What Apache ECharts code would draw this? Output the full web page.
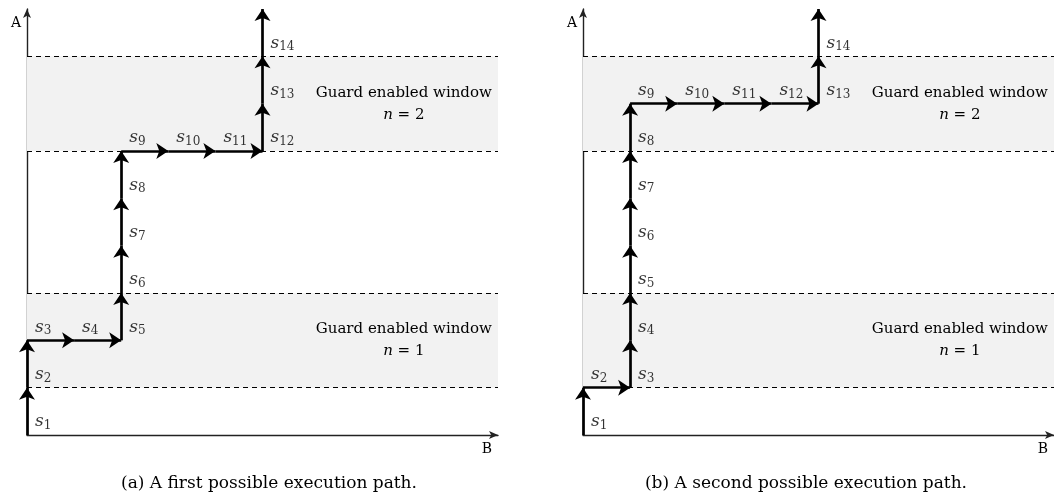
<!DOCTYPE html>
<html>
<head>
<meta charset="utf-8">
<script src="https://cdn.jsdelivr.net/npm/echarts@6/dist/echarts.min.js"></script>
<style>
	html, body { margin: 0; padding: 0; background: #fff; }
	#main { width: 1054px; height: 498px; }
</style>
</head>
<body>
<div id="main"></div>
<script>
	// path of states, one point per state, last point is the exit
	var pathA = [[0, 0], [0, 1], [0, 2], [1, 2], [2, 2], [2, 3], [2, 4], [2, 5], [2, 6], [3, 6], [4, 6], [5, 6], [5, 7], [5, 8], [5, 9]];
	var pathB = [[0, 0], [0, 1], [1, 1], [1, 2], [1, 3], [1, 4], [1, 5], [1, 6], [1, 7], [2, 7], [3, 7], [4, 7], [5, 7], [5, 8], [5, 9]];
	// guard enabled windows (A from, A to) and their n
	var windows = [[1, 3], [6, 8]];
	var windowN = [1, 2];
	var captions = ['(a) A first possible execution path.', '(b) A second possible execution path.'];

	var serif = 'DejaVu Serif';
	var ink = '#000';

	function segments(path) {
		var out = [];
		for (var i = 1; i < path.length; i++) {
			out.push({coords: [path[i - 1], path[i]]});
		}
		return out;
	}

	function stateLabels(path) {
		var out = [];
		for (var i = 0; i < path.length - 1; i++) {
			out.push({value: path[i], name: '{s|s}{d|' + (i + 1) + '}'});
		}
		return out;
	}

	function panelSeries(idx, path) {
		var areas = [], dashes = [];
		windows.forEach(function (w, k) {
			areas.push([
				{xAxis: 0, yAxis: w[0], label: {formatter: '{t|Guard enabled window}\n{i|n}{t| = ' + windowN[k] + '}'}},
				{xAxis: 10, yAxis: w[1]}
			]);
			dashes.push({yAxis: w[0]}, {yAxis: w[1]});
		});
		return [
			{
				type: 'scatter',
				xAxisIndex: idx,
				yAxisIndex: idx,
				data: [],
				z: 1,
				silent: true,
				markArea: {
					silent: true,
					itemStyle: {color: '#f2f2f2'},
					label: {
						position: ['80%', '50%'],
						align: 'center',
						verticalAlign: 'middle',
						lineHeight: 22,
						rich: {
							t: {fontFamily: serif, fontSize: 15, color: ink, lineHeight: 22},
							i: {fontFamily: serif, fontSize: 15, fontStyle: 'italic', color: ink, lineHeight: 22}
						}
					},
					data: areas
				},
				markLine: {
					silent: true,
					symbol: 'none',
					label: {show: false},
					lineStyle: {color: '#000', width: 1.1, type: [5, 4]},
					data: dashes
				}
			},
			{
				type: 'lines',
				coordinateSystem: 'cartesian2d',
				xAxisIndex: idx,
				yAxisIndex: idx,
				z: 3,
				clip: false,
				silent: true,
				symbol: ['none', 'arrow'],
				symbolSize: [11, 12],
				lineStyle: {color: '#000', width: 2.7, opacity: 1},
				data: segments(path)
			},
			{
				type: 'scatter',
				xAxisIndex: idx,
				yAxisIndex: idx,
				z: 4,
				silent: true,
				symbolSize: 0,
				label: {
					show: true,
					position: [8, -13],
					align: 'left',
					verticalAlign: 'middle',
					formatter: '{b}',
					rich: {
						s: {fontFamily: serif, fontSize: 17, fontStyle: 'italic', color: ink, lineHeight: 20, verticalAlign: 'middle'},
						d: {fontFamily: serif, fontSize: 12, color: ink, lineHeight: 12, verticalAlign: 'bottom'}
					}
				},
				data: stateLabels(path)
			}
		];
	}

	function xAxis(idx) {
		return {
			type: 'value', gridIndex: idx, min: 0, max: 10,
			axisLine: {show: true, symbol: ['none', 'arrow'], symbolSize: [6, 9], lineStyle: {color: '#222', width: 1.4}},
			axisTick: {show: false}, axisLabel: {show: false}, splitLine: {show: false},
			name: 'B', nameLocation: 'end', nameGap: -6,
			nameTextStyle: {fontFamily: serif, fontSize: 14, color: ink, align: 'right', verticalAlign: 'top', padding: [7, 0, 0, 0]}
		};
	}

	function yAxis(idx) {
		return {
			type: 'value', gridIndex: idx, min: 0, max: 9,
			axisLine: {show: true, symbol: ['none', 'arrow'], symbolSize: [6, 9], lineStyle: {color: '#222', width: 1.4}},
			axisTick: {show: false}, axisLabel: {show: false}, splitLine: {show: false},
			name: 'A', nameLocation: 'end', nameGap: -14,
			nameTextStyle: {fontFamily: serif, fontSize: 14, color: ink, align: 'right', verticalAlign: 'middle', padding: [0, 6, 0, 0]}
		};
	}

	var option = {
		animation: false,
		backgroundColor: '#fff',
		title: [
			{text: captions[0], left: 264, top: 470, textAlign: 'center', textStyle: {fontFamily: serif, fontSize: 17, fontWeight: 'normal', color: ink}},
			{text: captions[1], left: 801, top: 470, textAlign: 'center', textStyle: {fontFamily: serif, fontSize: 17, fontWeight: 'normal', color: ink}}
		],
		grid: [
			{left: 27, top: 9, width: 471, height: 426},
			{left: 583, top: 9, width: 471, height: 426}
		],
		xAxis: [xAxis(0), xAxis(1)],
		yAxis: [yAxis(0), yAxis(1)],
		series: panelSeries(0, pathA).concat(panelSeries(1, pathB))
	};

	var myChart = echarts.init(document.getElementById('main'));
	myChart.setOption(option);
</script>
</body>
</html>
